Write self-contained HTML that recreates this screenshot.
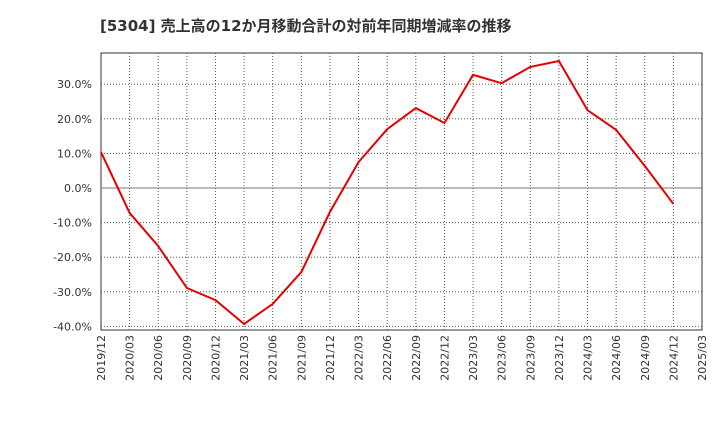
<!DOCTYPE html>
<html><head><meta charset="utf-8"><style>
body{margin:0;background:#fff;}
svg{display:block;font-family:"DejaVu Sans","Noto Sans CJK JP",sans-serif;}
</style></head><body>
<svg id="chart" width="720" height="440">
<text x="100" y="31" font-size="15" font-weight="bold" fill="#333">[5304]  売上高の12か月移動合計の対前年同期増減率の推移</text>
<g id="grid"></g><g id="axes"></g><g id="series"></g>
</svg>
<script>
const categories=["2019/12","2020/03","2020/06","2020/09","2020/12","2021/03","2021/06","2021/09","2021/12","2022/03","2022/06","2022/09","2022/12","2023/03","2023/06","2023/09","2023/12","2024/03","2024/06","2024/09","2024/12","2025/03"];
const values=[10.4,-7.2,-16.8,-28.9,-32.4,-39.3,-33.5,-24.3,-6.9,7.5,17.0,23.1,18.8,32.7,30.3,35.0,36.7,22.5,16.8,6.4,-4.6];
const yTicks=[-40,-30,-20,-10,0,10,20,30];
const L=101,R=702,T=53,B=330;
const x=i=>L+(R-L)*i/(categories.length-1);
const y=v=>188-v*3.46;
const ns="http://www.w3.org/2000/svg";
function mk(tag,attrs,parent){const e=document.createElementNS(ns,tag);for(const k in attrs)e.setAttribute(k,attrs[k]);document.getElementById(parent).appendChild(e);return e;}
let bg=mk('rect',{x:L,y:T,width:R-L,height:B-T,fill:'#fff',stroke:'#333','stroke-width':1},'grid');


categories.forEach((c,i)=>{
  if(i>0&&i<categories.length-1){let g=mk('line',{x1:x(i),x2:x(i),y1:T,y2:B,stroke:'#555','stroke-dasharray':'1,2','stroke-width':1},'grid');
  
  }
  let t=mk('text',{transform:`translate(${x(i)+4},${B+5}) rotate(-90)`,'text-anchor':'end','font-size':11,fill:'#333'},'axes');
  t.textContent=c;
  
  
});
yTicks.forEach(v=>{
  let g=mk('line',{x1:L,x2:R,y1:y(v),y2:y(v),stroke:v===0?'#777':'#555','stroke-dasharray':v===0?'':'1,2','stroke-width':1},'grid');
  
  
  let t=mk('text',{x:L-9,y:y(v)+4,'text-anchor':'end','font-size':11,fill:'#333'},'axes');
  t.textContent=v.toFixed(1)+'%';
  
  
});
let p=mk('polyline',{points:values.map((v,i)=>x(i)+','+y(v)).join(' '),fill:'none',stroke:'#e60000','stroke-width':2},'series');


</script>
</body></html>
